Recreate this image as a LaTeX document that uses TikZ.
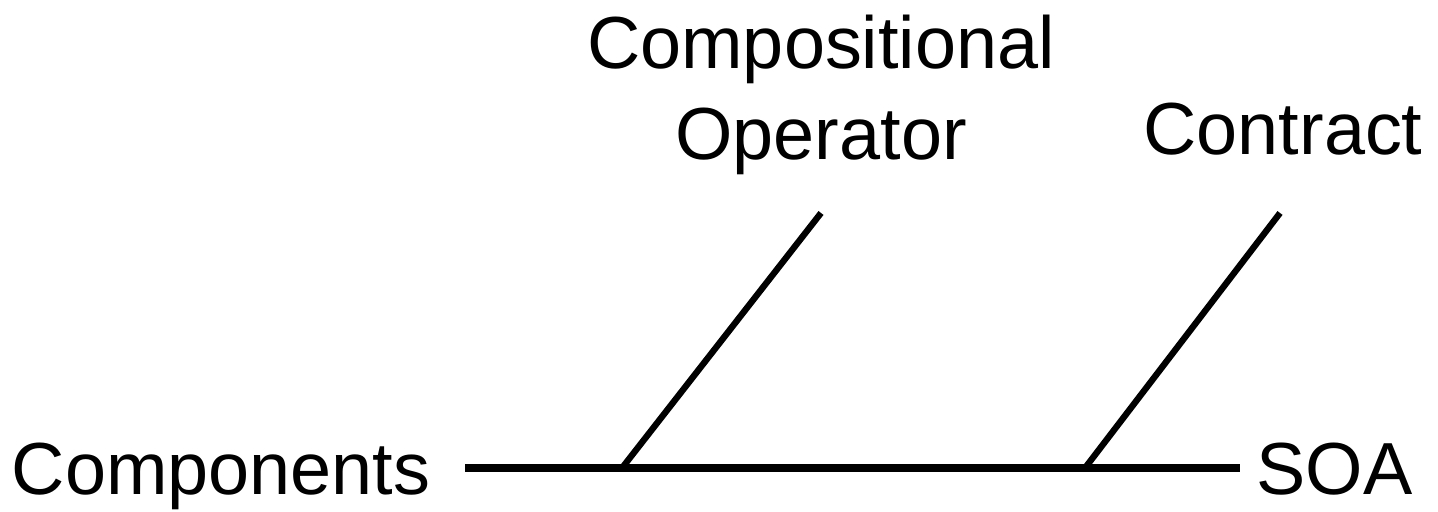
\documentclass[tikz,border=0pt]{standalone}
\usepackage{fontspec}
\setmainfont{Liberation Sans}
\usepackage{tikz}
\usetikzlibrary{positioning}

\begin{document}
\begin{tikzpicture}[
  lbl/.style={inner sep=0pt, font=\fontsize{21}{26}\selectfont},
  side/.style={lbl, text height=0.54cm, text depth=0pt},
  spine/.style={line width=2.4pt},
  bone/.style={line width=1.8pt}
]
\useasboundingbox (0,0) rectangle (14.38,5.12);
\node[side, anchor=east] (comp) at (4.31,0.44) {Components};
\node[side, anchor=west] (soa)  at (12.56,0.44) {SOA};
\coordinate (j1) at (6.22,0.44);
\coordinate (j2) at (10.85,0.44);
\coordinate (t1) at (8.21,2.99);
\coordinate (t2) at (12.80,2.99);
\node[lbl, align=center, anchor=south] (oper) at (8.21,3.365) {Compositional\\Operator};
\node[lbl, anchor=base] (contr) at (12.83,3.57) {Contract};
\draw[spine, shorten <=0.34cm, shorten >=0.16cm] (comp.east) -- (soa.west);
\draw[bone] (j1) -- (t1);
\draw[bone] (j2) -- (t2);
\end{tikzpicture}
\end{document}
